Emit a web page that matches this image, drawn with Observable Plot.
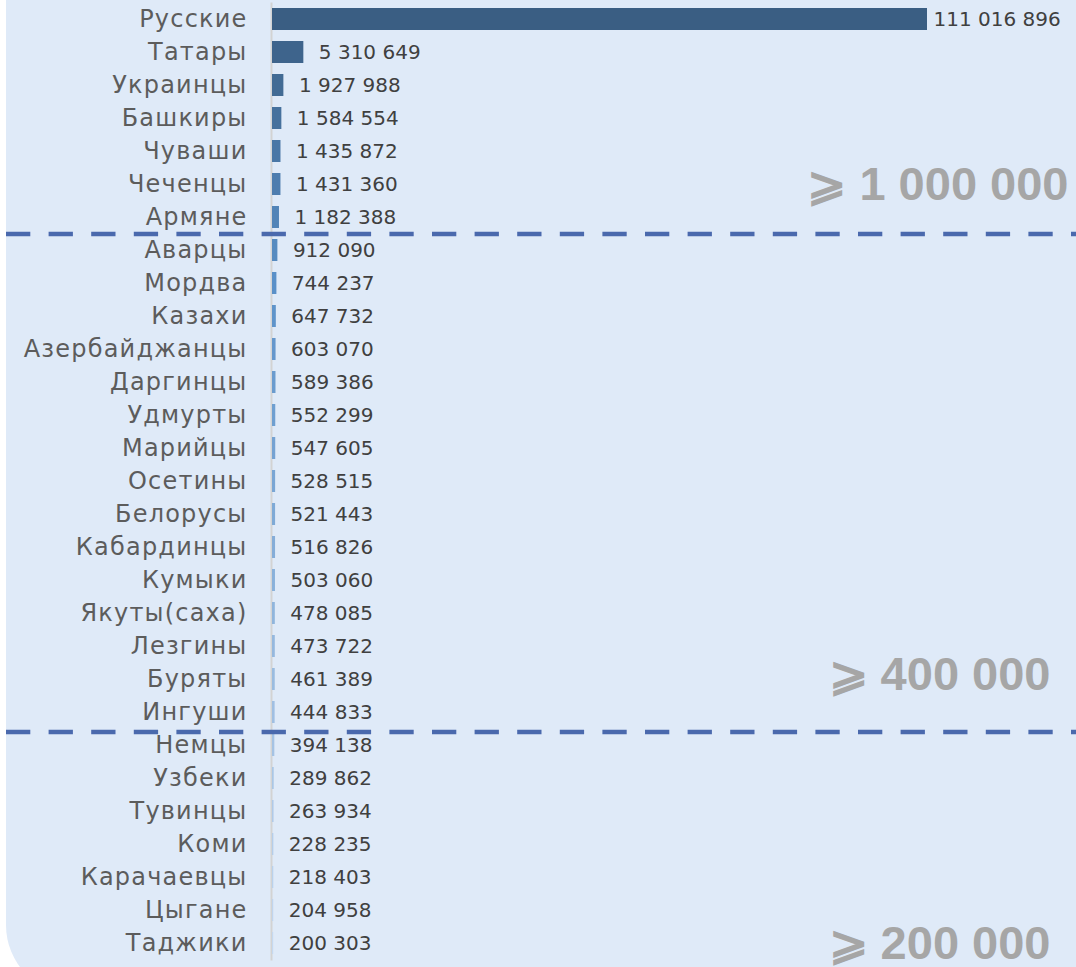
<!DOCTYPE html>
<html>
<head>
<meta charset="utf-8">
<script src="https://cdn.jsdelivr.net/npm/d3@7"></script>
<script src="https://cdn.jsdelivr.net/npm/@observablehq/plot@0.6"></script>
<style>
  html, body { margin: 0; padding: 0; background: #ffffff; overflow: hidden; }
  #bg { position: absolute; left: 6px; top: 0; width: 1070px; height: 995px; background: #dfeaf8; border-bottom-left-radius: 70px; }
  #chart { position: absolute; left: 0; top: 0; }
</style>
</head>
<body>
<div id="bg"></div>
<div id="chart"></div>
<script>
const names = ["Русские","Татары","Украинцы","Башкиры","Чуваши","Чеченцы","Армяне","Аварцы","Мордва","Казахи","Азербайджанцы","Даргинцы","Удмурты","Марийцы","Осетины","Белорусы","Кабардинцы","Кумыки","Якуты(саха)","Лезгины","Буряты","Ингуши","Немцы","Узбеки","Тувинцы","Коми","Карачаевцы","Цыгане","Таджики"];
const values = [111016896,5310649,1927988,1584554,1435872,1431360,1182388,912090,744237,647732,603070,589386,552299,547605,528515,521443,516826,503060,478085,473722,461389,444833,394138,289862,263934,228235,218403,204958,200303];
const groupBreaks = ["Армяне", "Ингуши"];
const thresholdLabels = ["⩾ 1 000 000", "⩾ 400 000", "⩾ 200 000"];
const thresholdRows = ["Чеченцы", "Буряты", "Таджики"];

const data = names.map((name, i) => ({name, value: values[i], rank: i}));
const fmt = v => d3.format(",")(v).replace(/,/g, " ");

const labelFont = "'DejaVu Sans', sans-serif";

const chart = Plot.plot({
  width: 1076,
  height: 967,
  marginLeft: 0,
  marginRight: 0,
  marginTop: 2.5,
  marginBottom: 6.5,
  style: {background: "transparent", overflow: "visible"},
  x: {domain: [0, d3.max(values)], range: [272, 927], axis: null},
  y: {domain: names, paddingInner: 0.33, paddingOuter: 0.165, axis: null},
  color: {type: "linear", domain: [0, 8, 28], range: ["#3a5e83", "#5a90c8", "#c5d9f0"]},
  marks: [
    Plot.ruleX([0], {dx: -1, stroke: "#d3d3d3", strokeWidth: 2}),
    Plot.barX(data, {x: "value", y: "name", fill: "rank"}),
    Plot.text(data, {x: 0, y: "name", text: "name", textAnchor: "end", dx: -25, fontSize: 24, fontFamily: labelFont, fill: "#5c5c5c"}),
    Plot.text(data.slice(0, 1), {x: "value", y: "name", text: d => fmt(d.value), textAnchor: "start", dx: 6, fontSize: 20, fontFamily: labelFont, fill: "#404040"}),
    Plot.text(data.slice(1), {x: "value", y: "name", text: d => fmt(d.value), textAnchor: "start", dx: 15, fontSize: 20, fontFamily: labelFont, fill: "#404040"}),
    Plot.ruleY([groupBreaks[0]], {y: d => d, dy: 16.5, stroke: "#4a69ad", strokeWidth: 4.5, strokeDasharray: "24.3 18.3", strokeDashoffset: -6}),
    Plot.ruleY([groupBreaks[1]], {y: d => d, dy: 19.5, stroke: "#4a69ad", strokeWidth: 4.5, strokeDasharray: "24.3 18.3", strokeDashoffset: -6}),
    ...[0, 1, 2].map(i => Plot.text([thresholdLabels[i]], {
      y: [thresholdRows[i]], text: d => d, frameAnchor: "right", textAnchor: "end",
      dx: i === 0 ? -8 : -26, dy: i === 1 ? -5 : 0,
      fontSize: 47, fontWeight: "bold", fontFamily: "'Liberation Sans', Arial, sans-serif", fill: "#a6a6a6"
    }))
  ]
});
const textGroups = d3.select(chart).selectAll("g[aria-label='text']").nodes();
if (textGroups.length) d3.select(textGroups[0]).attr("letter-spacing", "1.2px");
document.getElementById("chart").appendChild(chart);
</script>
</body>
</html>
